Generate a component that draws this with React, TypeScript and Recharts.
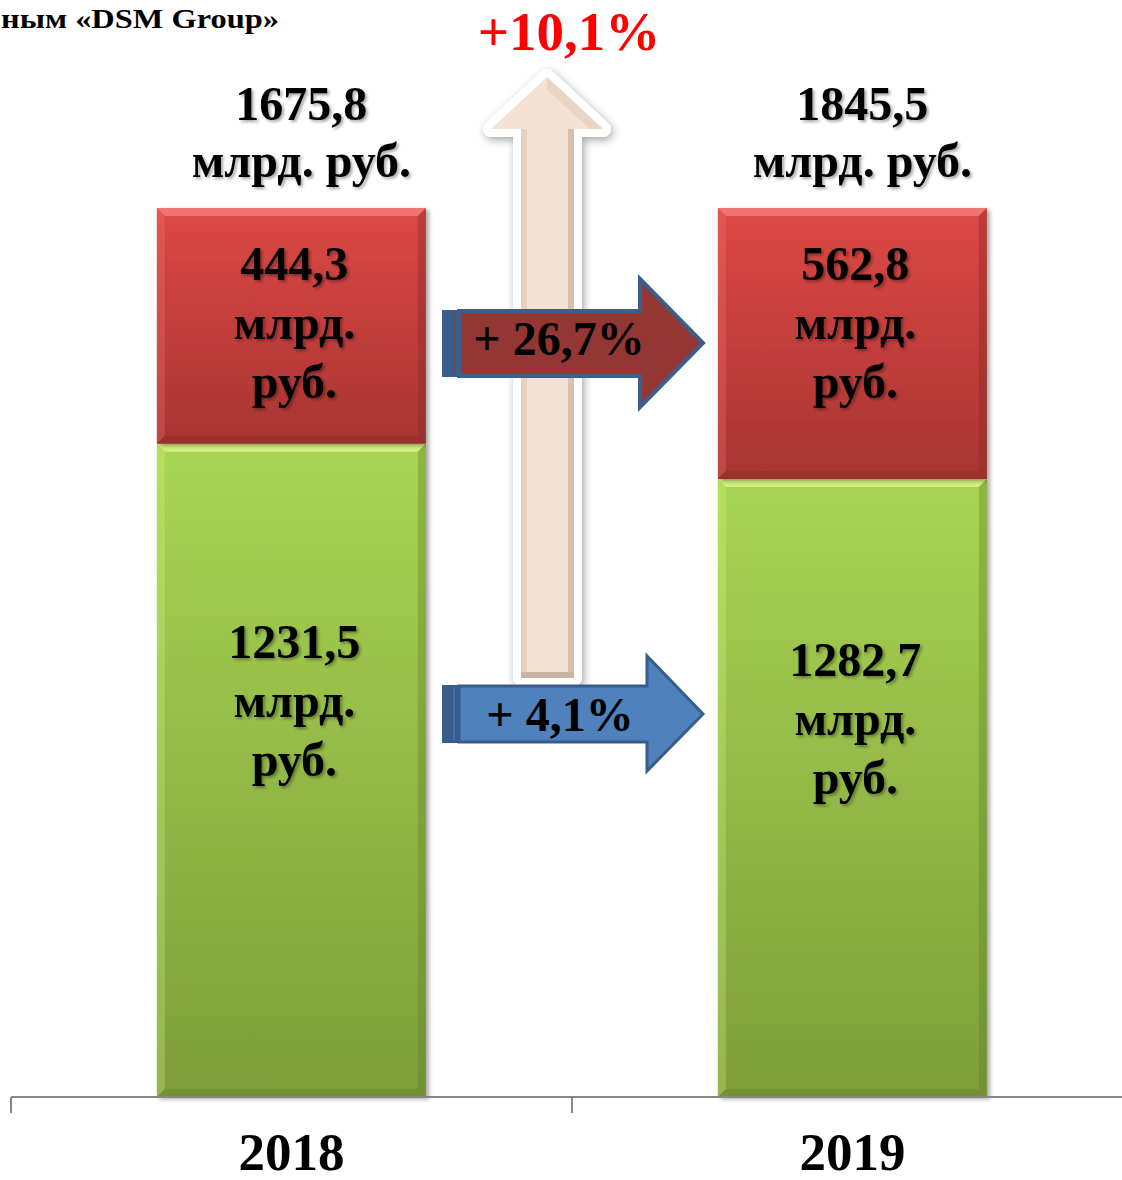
import { BarChart, Bar, XAxis, YAxis, LabelList } from "recharts";

const years = ["2018", "2019"];
const otherSales = [1231.5, 1282.7];
const topSales = [444.3, 562.8];
const totals = [1675.8, 1845.5];
const unitLines = ["млрд.", "руб."];
const totalUnit = "млрд. руб.";
const growthTotal = "+10,1%";
const growthTop = "+ 26,7%";
const growthOther = "+ 4,1%";
const sourceNote = "ным «DSM Group»";

const data = years.map((year, i) => ({
  year,
  green: otherSales[i],
  red: topSales[i],
}));

const W = 1122;
const H = 1180;
const CHART_W = 1133;
const LEFT = 11;
const BAND = (CHART_W - LEFT) / years.length;
const SERIF = "'Liberation Serif', 'Times New Roman', serif";

const fmt = (v: number) => v.toFixed(1).replace(".", ",");

const palette: any = {
  red: { grad: "url(#gRed)", light: "#f7847f", dark: "#7e2421" },
  green: { grad: "url(#gGreen)", light: "#e2fa92", dark: "#5d7a25" },
};

function BevelBar(props: any) {
  const { x, y, width, height, kind } = props;
  if (!width || !height) return null;
  const c = palette[kind];
  const b = 8;
  const r = x + width;
  const bt = y + height;
  return (
    <g filter="url(#barShadow)">
      <rect x={x} y={y} width={width} height={height} fill={c.grad} />
      <polygon
        points={`${x},${y} ${r},${y} ${r - b},${y + b} ${x + b},${y + b}`}
        fill={c.light}
        opacity={0.75}
      />
      <polygon
        points={`${x},${y} ${x + b},${y + b} ${x + b},${bt - b} ${x},${bt}`}
        fill={c.light}
        opacity={0.25}
      />
      <polygon
        points={`${r},${y} ${r - b},${y + b} ${r - b},${bt - b} ${r},${bt}`}
        fill={c.dark}
        opacity={0.35}
      />
      <polygon
        points={`${x},${bt} ${x + b},${bt - b} ${r - b},${bt - b} ${r},${bt}`}
        fill={c.dark}
        opacity={0.35}
      />
    </g>
  );
}

function SegLabel(props: any) {
  const { x, y, width, height, index, kind } = props;
  const cx = Number(x) + Number(width) / 2 + 3;
  const vals = kind === "red" ? topSales : otherSales;
  const first =
    kind === "red" ? Number(y) + 72 : Number(y) + Number(height) / 2 - 112;
  const lines = [fmt(vals[index]), ...unitLines];
  return (
    <g filter="url(#txtShadow)">
      {lines.map((t, i) => (
        <text
          key={i}
          x={cx}
          y={first + i * 59}
          textAnchor="middle"
          fontFamily={SERIF}
          fontWeight="bold"
          fontSize={48}
          fill="#000"
        >
          {t}
        </text>
      ))}
    </g>
  );
}

function TotalLabel(props: any) {
  const { x, y, width, index } = props;
  const cx = Number(x) + Number(width) / 2 + 10;
  return (
    <g filter="url(#txtShadow)">
      <text
        x={cx}
        y={Number(y) - 88}
        textAnchor="middle"
        fontFamily={SERIF}
        fontWeight="bold"
        fontSize={48}
        fill="#000"
      >
        {fmt(totals[index])}
      </text>
      <text
        x={cx}
        y={Number(y) - 31}
        textAnchor="middle"
        fontFamily={SERIF}
        fontWeight="bold"
        fontSize={48}
        fill="#000"
      >
        {totalUnit}
      </text>
    </g>
  );
}

function YearTick(props: any) {
  const { x, y, payload } = props;
  const bx = x - BAND / 2;
  return (
    <g>
      <line x1={bx} x2={bx} y1={y} y2={y + 16} stroke="#878787" strokeWidth={2} />
      <text
        x={x}
        y={y + 73}
        textAnchor="middle"
        fontFamily={SERIF}
        fontWeight="bold"
        fontSize={53}
        fill="#000"
      >
        {payload.value}
      </text>
    </g>
  );
}

export default function App() {
  return (
    <div
      style={{
        position: "absolute",
        left: 0,
        top: 0,
        width: W,
        height: H,
        overflow: "hidden",
        background: "#fff",
      }}
    >
      <svg width={0} height={0} style={{ position: "absolute" }}>
        <defs>
          <linearGradient id="gRed" x1="0" y1="0" x2="0" y2="1">
            <stop offset="0%" stopColor="#dd4845" />
            <stop offset="100%" stopColor="#a83532" />
          </linearGradient>
          <linearGradient id="gGreen" x1="0" y1="0" x2="0" y2="1">
            <stop offset="0%" stopColor="#a9d553" />
            <stop offset="100%" stopColor="#7d9e3a" />
          </linearGradient>
          <filter id="barShadow" x="-10%" y="-10%" width="120%" height="120%">
            <feDropShadow dx="3" dy="2" stdDeviation="2" floodColor="#000" floodOpacity="0.35" />
          </filter>
          <filter id="txtShadow" x="-10%" y="-20%" width="120%" height="140%">
            <feDropShadow dx="2" dy="2" stdDeviation="1.5" floodColor="#000" floodOpacity="0.35" />
          </filter>
          <filter id="arrowShadow" x="-30%" y="-10%" width="160%" height="120%">
            <feDropShadow dx="2" dy="3" stdDeviation="4" floodColor="#000" floodOpacity="0.35" />
          </filter>
        </defs>
      </svg>

      <BarChart
        width={CHART_W}
        height={H}
        data={data}
        stackOffset="expand"
        barCategoryGap="26%"
        margin={{ top: 208, right: 0, left: LEFT, bottom: 3 }}
      >
        <XAxis
          dataKey="year"
          height={80}
          axisLine={{ stroke: "#878787", strokeWidth: 2 }}
          tickLine={false}
          tickSize={0}
          tickMargin={0}
          tick={<YearTick />}
          interval={0}
        />
        <YAxis hide domain={[0, 1]} />
        <Bar
          dataKey="green"
          stackId="a"
          isAnimationActive={false}
          shape={(p: any) => <BevelBar {...p} kind="green" />}
        >
          <LabelList content={(p: any) => <SegLabel {...p} kind="green" />} />
        </Bar>
        <Bar
          dataKey="red"
          stackId="a"
          isAnimationActive={false}
          shape={(p: any) => <BevelBar {...p} kind="red" />}
        >
          <LabelList content={(p: any) => <SegLabel {...p} kind="red" />} />
          <LabelList content={(p: any) => <TotalLabel {...p} />} />
        </Bar>
      </BarChart>

      <svg
        width={W}
        height={H}
        style={{ position: "absolute", left: 0, top: 0, pointerEvents: "none" }}
      >
        <text
          x={1}
          y={28}
          textLength={278}
          lengthAdjust="spacingAndGlyphs"
          fontFamily={SERIF}
          fontWeight="bold"
          fontSize={27}
          fill="#000"
        >
          {sourceNote}
        </text>

        <text
          x={569}
          y={50}
          textAnchor="middle"
          fontFamily={SERIF}
          fontWeight="bold"
          fontSize={55}
          fill="#ff0000"
        >
          {growthTotal}
        </text>

        <polygon
          points="547,77 603,129 574,129 574,678 521,678 521,129 491,129"
          fill="#fff"
          stroke="#fff"
          strokeWidth={16}
          strokeLinejoin="round"
          filter="url(#arrowShadow)"
        />
        <polygon
          points="547,77 603,129 574,129 574,678 521,678 521,129 491,129"
          fill="#f4e3d5"
        />
        <rect x={521} y={129} width={6} height={549} fill="#e6d0be" />
        <rect x={568} y={129} width={6} height={549} fill="#d9c1ad" />
        <rect x={521} y={672} width={53} height={6} fill="#cdb39e" />
        <polygon points="547,77 603,129 590,129 547,90" fill="#e9d5c4" />

        <rect x={442} y={310} width={17} height={67} fill="#3a5f8c" />
        <line x1={454} x2={454} y1={312} y2={375} stroke="#943734" strokeWidth={1} />
        <polygon
          points="459,311 640,311 640,279 703,343 640,407 640,376 459,376"
          fill="#943734"
          stroke="#3a5f8c"
          strokeWidth={4}
        />
        <text
          x={559}
          y={355}
          textAnchor="middle"
          fontFamily={SERIF}
          fontWeight="bold"
          fontSize={48}
          fill="#000"
        >
          {growthTop}
        </text>

        <rect x={442} y={685} width={17} height={58} fill="#385d8a" />
        <line x1={454} x2={454} y1={687} y2={741} stroke="#4f81bd" strokeWidth={1} />
        <polygon
          points="459,686 647,686 647,656 703,714 647,771 647,742 459,742"
          fill="#4f81bd"
          stroke="#385d8a"
          strokeWidth={3}
        />
        <text
          x={560}
          y={731}
          textAnchor="middle"
          fontFamily={SERIF}
          fontWeight="bold"
          fontSize={48}
          fill="#000"
        >
          {growthOther}
        </text>
      </svg>
    </div>
  );
}
